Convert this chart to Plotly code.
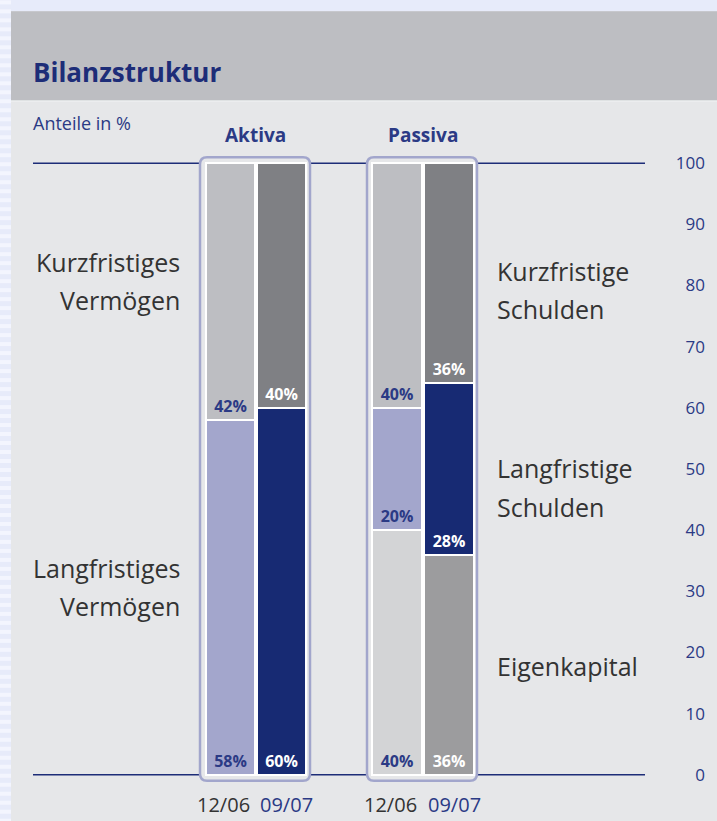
import plotly.graph_objects as go

# ---------------- data ----------------
periods = ["12/06", "09/07"]
aktiva_lang = [58, 60]      # Langfristiges Vermögen
aktiva_kurz = [42, 40]      # Kurzfristiges Vermögen
passiva_ek = [40, 36]       # Eigenkapital
passiva_lang = [20, 28]     # Langfristige Schulden
passiva_kurz = [40, 36]     # Kurzfristige Schulden
y_ticks = [0, 10, 20, 30, 40, 50, 60, 70, 80, 90, 100]

# ---------------- styling ----------------
W, H = 717, 821
Y0_PX, Y100_PX = 775, 163          # pixel rows of 0 % and 100 %
UNIT = (Y0_PX - Y100_PX) / 100.0
YMIN, YMAX = -2.0, 102.0
ML, MR = 0, 9
MT = Y100_PX - (YMAX - 100) * UNIT
MB = H - (Y0_PX + (0 - YMIN) * UNIT)
PW, PH = W - ML - MR, H - MT - MB
NAVY = "#1d2d78"
NAVY_TXT = "#2b3a85"
DARK = "#333333"
FONT = "Open Sans"


def xp(px):
    return (px - ML) / PW


def yp(py):
    return (H - MB - py) / PH


cols = {"kurz": ["#bdbec2", "#7f8084"], "lang": ["#a3a6cc", "#172a73"], "ek": ["#d3d4d6", "#9c9c9e"]}
txt_cols = [NAVY_TXT, "#ffffff"]


def pct(vals):
    return ["<b>%d%%</b>" % v for v in vals]


def bar(name, vals, colors, xaxis):
    return go.Bar(
        name=name, x=periods, y=vals, xaxis=xaxis, yaxis="y",
        marker=dict(color=colors, line=dict(color="white", width=2)),
        text=pct(vals), textposition="inside", insidetextanchor="start",
        textangle=0, constraintext="none",
        textfont=dict(family=FONT, size=16, color=txt_cols),
        showlegend=False, hoverinfo="skip",
    )


fig = go.Figure()
fig.add_trace(bar("Langfristiges Vermögen", aktiva_lang, cols["lang"], "x"))
fig.add_trace(bar("Kurzfristiges Vermögen", aktiva_kurz, cols["kurz"], "x"))
fig.add_trace(bar("Eigenkapital", passiva_ek, cols["ek"], "x2"))
fig.add_trace(bar("Langfristige Schulden", passiva_lang, cols["lang"], "x2"))
fig.add_trace(bar("Kurzfristige Schulden", passiva_kurz, cols["kurz"], "x2"))

shapes = []
# outer background stripes on the left edge
for i in range(0, H, 9):
    shapes.append(dict(type="rect", xref="paper", yref="paper", layer="below",
                       x0=xp(0), x1=xp(11), y0=yp(i), y1=yp(i + 4),
                       fillcolor="#f3f5fe", line=dict(width=0)))
# panel body
shapes.append(dict(type="rect", xref="paper", yref="paper", layer="below",
                   x0=xp(11), x1=xp(W + 5), y0=yp(11), y1=yp(H + 5),
                   fillcolor="#e6e7e9", line=dict(width=0)))
# header band
shapes.append(dict(type="rect", xref="paper", yref="paper", layer="below",
                   x0=xp(11), x1=xp(W + 5), y0=yp(11), y1=yp(100),
                   fillcolor="#bdbec2", line=dict(width=0)))
shapes.append(dict(type="line", xref="paper", yref="paper", layer="below",
                   x0=xp(11), x1=xp(W + 5), y0=yp(101), y1=yp(101),
                   line=dict(color="#eeeff1", width=1)))
# horizontal lines at 0 and 100
for v in (0, 100):
    shapes.append(dict(type="line", xref="paper", yref="y", layer="below",
                       x0=xp(33), x1=xp(645), y0=v, y1=v,
                       line=dict(color=NAVY, width=1.6)))


def rounded(x0, x1, y0, y1, r):
    X0, X1 = xp(x0), xp(x1)
    Y0, Y1 = yp(y1), yp(y0)  # Y0 bottom, Y1 top
    rx, ry = r / PW, r / PH
    return (f"M {X0+rx} {Y1} L {X1-rx} {Y1} Q {X1} {Y1} {X1} {Y1-ry} "
            f"L {X1} {Y0+ry} Q {X1} {Y0} {X1-rx} {Y0} L {X0+rx} {Y0} "
            f"Q {X0} {Y0} {X0} {Y0+ry} L {X0} {Y1-ry} Q {X0} {Y1} {X0+rx} {Y1} Z")


for fx0, fx1 in ((200, 310), (367, 477)):
    shapes.append(dict(type="path", xref="paper", yref="paper", layer="below",
                       path=rounded(fx0, fx1, 157, 781, 7),
                       fillcolor="#e6e7e9", line=dict(color="#a2a6cc", width=2.5)))

ann = []


def text(s, px, py, size, color, anchor="left", bold=False, family=FONT):
    ann.append(dict(text=("<b>%s</b>" % s) if bold else s, xref="paper", yref="paper",
                    x=xp(px), y=yp(py), xanchor=anchor, yanchor="middle",
                    showarrow=False, font=dict(family=family, size=size, color=color)))


text("Bilanzstruktur", 31, 72, 26, NAVY, bold=True)
text("Anteile in %", 31, 123, 18, NAVY_TXT)
text("Aktiva", 255, 135, 19, NAVY_TXT, anchor="center", bold=True)
text("Passiva", 423, 135, 19, NAVY_TXT, anchor="center", bold=True)
for s, py in (("Kurzfristiges", 262), ("Vermögen", 300), ("Langfristiges", 568), ("Vermögen", 606)):
    text(s, 182, py, 25, DARK, anchor="right")
for s, py in (("Kurzfristige", 271), ("Schulden", 309), ("Langfristige", 468),
              ("Schulden", 507), ("Eigenkapital", 666)):
    text(s, 495, py, 25, DARK, anchor="left")

# period labels under each bar (placed on the category axes)
period_cols = [DARK, NAVY_TXT]
period_shift = [-7, 5]
for xa in ("x", "x2"):
    for i, p in enumerate(periods):
        ann.append(dict(text=p, xref=xa, yref="paper", x=p, y=yp(805),
                        xanchor="center", yanchor="middle", xshift=period_shift[i],
                        showarrow=False,
                        font=dict(family=FONT, size=20, color=period_cols[i])))

xcommon = dict(type="category", categoryorder="array", categoryarray=periods,
               range=[-0.5, len(periods) - 0.5], autorange=False,
               showgrid=False, zeroline=False, showline=False,
               ticks="", showticklabels=False, automargin=False,
               anchor="y", fixedrange=True)

fig.update_layout(
    width=W, height=H,
    margin=dict(l=ML, r=MR, t=MT, b=MB, pad=0, autoexpand=False),
    paper_bgcolor="#e7ebfa", plot_bgcolor="rgba(0,0,0,0)",
    barmode="stack", bargap=0.05,
    xaxis=dict(domain=[xp(205), xp(307)], **xcommon),
    xaxis2=dict(domain=[xp(371), xp(475)], **xcommon),
    yaxis=dict(range=[YMIN, YMAX], side="right", anchor="free", position=1,
               tickvals=y_ticks, ticklabelposition="inside", ticks="",
               automargin=False, fixedrange=True,
               showgrid=False, zeroline=False, showline=False,
               tickfont=dict(family=FONT, size=17, color=NAVY_TXT)),
    shapes=shapes, annotations=ann,
    font=dict(family=FONT),
)

fig.write_html("out.html", config={"displayModeBar": False},
               post_script="document.body.style.margin='0px';document.body.style.overflow='hidden';")
